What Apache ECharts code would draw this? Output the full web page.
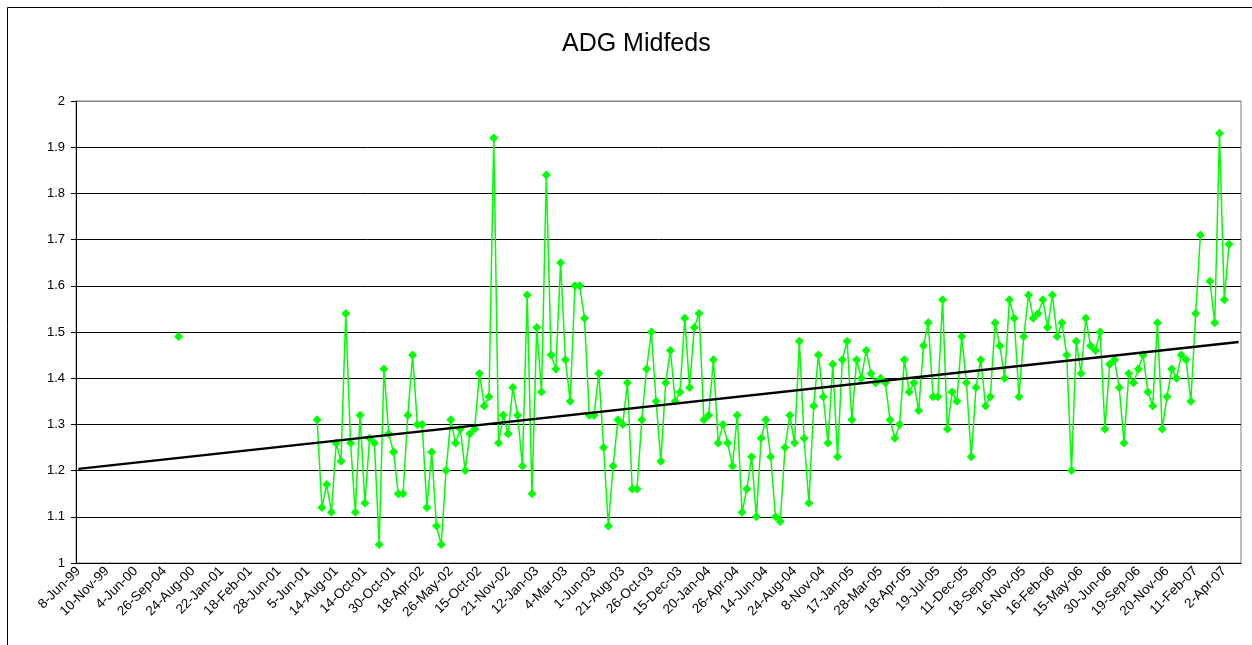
<!DOCTYPE html>
<html>
<head>
<meta charset="utf-8">
<title>ADG Midfeds</title>
<script src="https://cdn.jsdelivr.net/npm/echarts@6/dist/echarts.min.js"></script>
<style>
html, body { margin: 0; padding: 0; background: #fff; }
#chart { width: 1252px; height: 645px; }
</style>
</head>
<body>
<div id="chart"></div>
<script>
// every 6th category carries a label in the source sheet
const tickLabels = [
    '8-Jun-99', '10-Nov-99', '4-Jun-00', '26-Sep-04', '24-Aug-00', '22-Jan-01',
    '18-Feb-01', '28-Jun-01', '5-Jun-01', '14-Aug-01', '14-Oct-01', '30-Oct-01',
    '18-Apr-02', '26-May-02', '15-Oct-02', '21-Nov-02', '12-Jan-03', '4-Mar-03',
    '1-Jun-03', '21-Aug-03', '26-Oct-03', '15-Dec-03', '20-Jan-04', '26-Apr-04',
    '14-Jun-04', '24-Aug-04', '8-Nov-04', '17-Jan-05', '28-Mar-05', '18-Apr-05',
    '19-Jul-05', '11-Dec-05', '18-Sep-05', '16-Nov-05', '16-Feb-06', '15-May-06',
    '30-Jun-06', '19-Sep-06', '20-Nov-06', '11-Feb-07', '2-Apr-07'
];
const labelStep = 6;
const categoryCount = 244;

// lone early reading
const loneIndex = 21;
const loneValue = 1.49;

// main run of weights, starting at category 50
const mainStart = 50;
const mainValues = [
    1.31, 1.12, 1.17, 1.11, 1.26, 1.22, 1.54, 1.26, 1.11, 1.32,
    1.13, 1.27, 1.26, 1.04, 1.42, 1.28, 1.24, 1.15, 1.15, 1.32,
    1.45, 1.30, 1.30, 1.12, 1.24, 1.08, 1.04, 1.20, 1.31, 1.26,
    1.29, 1.20, 1.28, 1.29, 1.41, 1.34, 1.36, 1.92, 1.26, 1.32,
    1.28, 1.38, 1.32, 1.21, 1.58, 1.15, 1.51, 1.37, 1.84, 1.45,
    1.42, 1.65, 1.44, 1.35, 1.60, 1.60, 1.53, 1.32, 1.32, 1.41,
    1.25, 1.08, 1.21, 1.31, 1.30, 1.39, 1.16, 1.16, 1.31, 1.42,
    1.50, 1.35, 1.22, 1.39, 1.46, 1.35, 1.37, 1.53, 1.38, 1.51,
    1.54, 1.31, 1.32, 1.44, 1.26, 1.30, 1.26, 1.21, 1.32, 1.11,
    1.16, 1.23, 1.10, 1.27, 1.31, 1.23, 1.10, 1.09, 1.25, 1.32,
    1.26, 1.48, 1.27, 1.13, 1.34, 1.45, 1.36, 1.26, 1.43, 1.23,
    1.44, 1.48, 1.31, 1.44, 1.40, 1.46, 1.41, 1.39, 1.40, 1.39,
    1.31, 1.27, 1.30, 1.44, 1.37, 1.39, 1.33, 1.47, 1.52, 1.36,
    1.36, 1.57, 1.29, 1.37, 1.35, 1.49, 1.39, 1.23, 1.38, 1.44,
    1.34, 1.36, 1.52, 1.47, 1.40, 1.57, 1.53, 1.36, 1.49, 1.58,
    1.53, 1.54, 1.57, 1.51, 1.58, 1.49, 1.52, 1.45, 1.20, 1.48,
    1.41, 1.53, 1.47, 1.46, 1.50, 1.29, 1.43, 1.44, 1.38, 1.26,
    1.41, 1.39, 1.42, 1.45, 1.37, 1.34, 1.52, 1.29, 1.36, 1.42,
    1.40, 1.45, 1.44, 1.35, 1.54, 1.71
];

// short run after a missing week
const tailStart = 237;
const tailValues = [1.61, 1.52, 1.93, 1.57, 1.69];

const yTicks = [1, 1.1, 1.2, 1.3, 1.4, 1.5, 1.6, 1.7, 1.8, 1.9, 2];

// build the full series with gaps as nulls
const categories = [];
const adg = [];
for (let i = 0; i < categoryCount; i++) {
    categories.push(String(i));
    adg.push(null);
}
adg[loneIndex] = loneValue;
mainValues.forEach((v, k) => { adg[mainStart + k] = v; });
tailValues.forEach((v, k) => { adg[tailStart + k] = v; });

// linear trend (least squares on category position)
let n = 0, sx = 0, sy = 0, sxx = 0, sxy = 0;
adg.forEach((v, i) => {
    if (v === null) return;
    n++; sx += i; sy += v; sxx += i * i; sxy += i * v;
});
const slope = (n * sxy - sx * sy) / (n * sxx - sx * sx);
const intercept = (sy - slope * sx) / n;
const trend = [
    [0, intercept],
    [categoryCount - 1, intercept + slope * (categoryCount - 1)]
];

const chart = echarts.init(document.getElementById('chart'));
chart.setOption({
    animation: false,
    backgroundColor: '#fff',
    title: {
        text: 'ADG Midfeds',
        left: 557,
        top: 27,
        textStyle: { fontFamily: 'Arial, Liberation Sans', fontSize: 25, fontWeight: 'normal', color: '#000' }
    },
    graphic: [{
        type: 'rect',
        shape: { x: 7.5, y: 7.5, width: 1300, height: 700 },
        style: { fill: 'none', stroke: '#000', lineWidth: 1 },
        silent: true
    }],
    grid: {
        left: 76, right: 11, top: 101, bottom: 82,
        show: true, borderColor: '#808080', borderWidth: 1
    },
    xAxis: {
        type: 'category',
        data: categories,
        boundaryGap: true,
        axisLine: { lineStyle: { color: '#000', width: 1 } },
        axisTick: { interval: 0, length: 4, lineStyle: { color: '#000' } },
        axisLabel: {
            interval: labelStep - 1,
            rotate: 45,
            margin: 6,
            fontFamily: 'Arial, Liberation Sans',
            fontSize: 13.5,
            color: '#000',
            formatter: (v, i) => (i % labelStep === 0 ? tickLabels[i / labelStep] : '')
        },
        splitLine: { show: false }
    },
    yAxis: {
        type: 'value',
        min: yTicks[0],
        max: yTicks[yTicks.length - 1],
        interval: 0.1,
        axisLine: { show: true, lineStyle: { color: '#000', width: 1 } },
        axisTick: { show: true, length: 5, lineStyle: { color: '#000' } },
        axisLabel: {
            margin: 11,
            fontFamily: 'Arial, Liberation Sans',
            fontSize: 13,
            color: '#000',
            formatter: v => String(+v.toFixed(1))
        },
        splitLine: {
            lineStyle: {
                color: ['#000', '#000', '#000', '#000', '#000', '#000', '#000', '#000', '#000', '#000', '#808080'],
                width: 1
            }
        }
    },
    series: [{
        name: 'ADG',
        type: 'line',
        data: adg,
        connectNulls: false,
        symbol: 'diamond',
        symbolSize: 9,
        showSymbol: true,
        showAllSymbol: true,
        itemStyle: { color: '#00ff00' },
        lineStyle: { color: '#00ff00', width: 1.5 },
        z: 2
    }, {
        name: 'Trend',
        type: 'line',
        data: trend,
        symbol: 'none',
        lineStyle: { color: '#000', width: 2.5 },
        z: 3
    }]
});
</script>
</body>
</html>
